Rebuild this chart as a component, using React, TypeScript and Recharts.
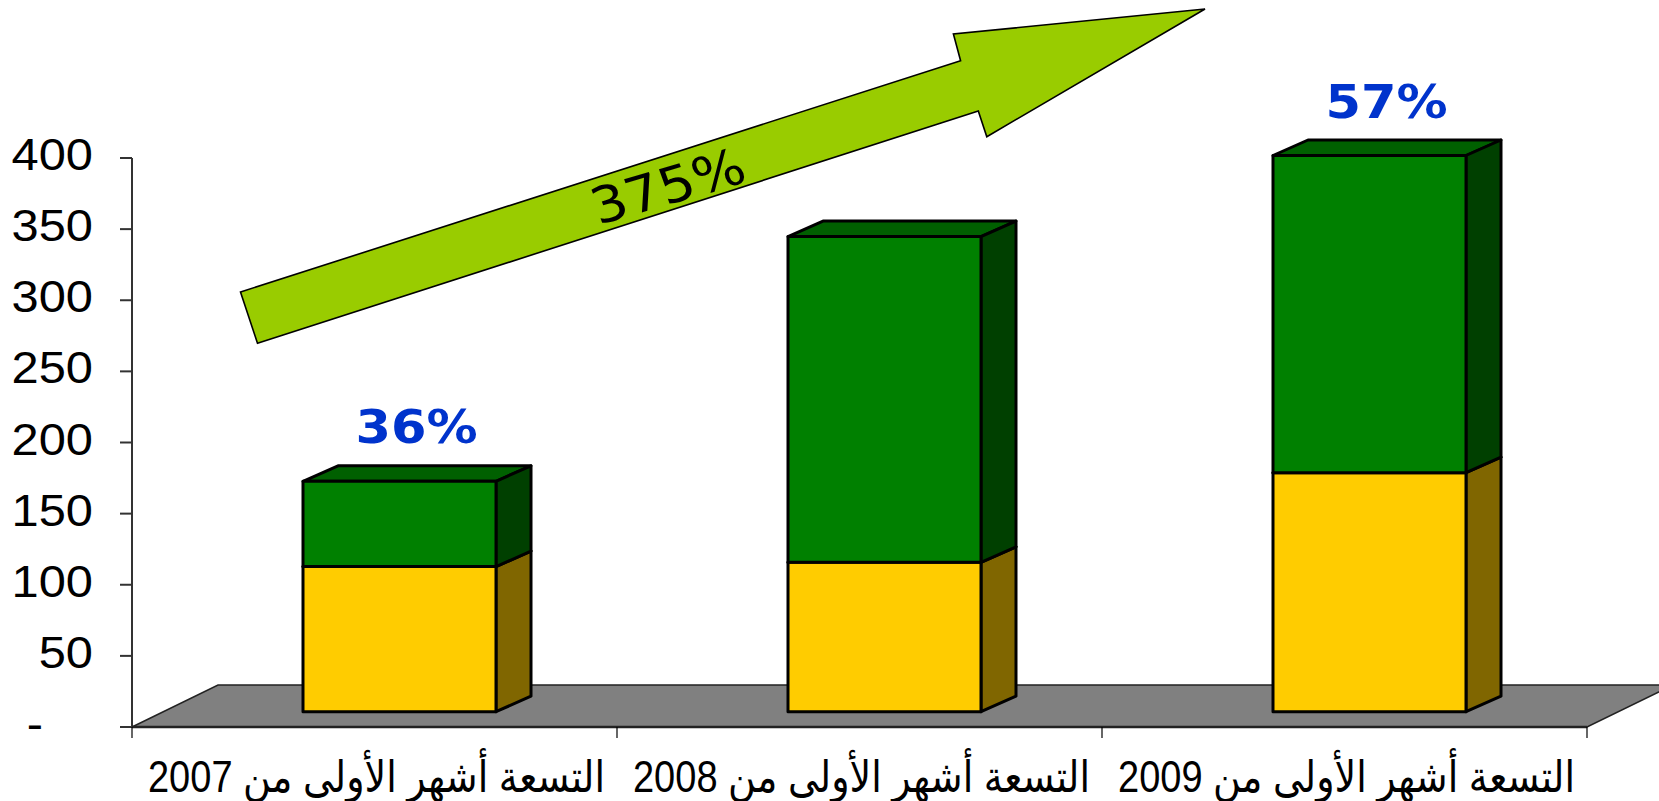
import React from 'react'
import { BarChart, Bar, XAxis, YAxis, ReferenceLine, LabelList } from 'recharts'

const categories = [
  'التسعة أشهر الأولى من 2007',
  'التسعة أشهر الأولى من 2008',
  'التسعة أشهر الأولى من 2009',
]
const yellowValues = [102, 105, 168]
const greenValues = [60, 229, 223]
const shareLabels = ['36%', '', '57%']
const yTicks = [0, 50, 100, 150, 200, 250, 300, 350, 400]
const growthLabel = '375%'

const data = categories.map((name, i) => ({
  name,
  yellow: yellowValues[i],
  green: greenValues[i],
  pct: shareLabels[i],
}))

const W = 1659
const H = 801
// the picture is a slide image stretched sideways, so text is widened a bit
const STRETCH = 1.11
// front face of the boxes sits a little behind the axis plane
const SHIFT_X = 25
const SHIFT_Y = -15.3
const DEPTH_X = 35
const DEPTH_Y = -15.5
const FLOOR_X = 86
const FLOOR_Y = -42

const SANS = '"Liberation Sans", Arial, "DejaVu Sans", sans-serif'

function makeBox(front: string, side: string, top: string) {
  return function Box(props: any) {
    const { x, y, width, height } = props
    if (!height || height <= 0) return <g />
    const fx = x + SHIFT_X
    const fy = y + SHIFT_Y
    const r = fx + width
    const b = fy + height
    return (
      <g stroke="#000" strokeWidth={3} strokeLinejoin="round">
        <polygon
          points={`${fx},${fy} ${fx + DEPTH_X},${fy + DEPTH_Y} ${r + DEPTH_X},${fy + DEPTH_Y} ${r},${fy}`}
          fill={top}
        />
        <polygon
          points={`${r},${fy} ${r + DEPTH_X},${fy + DEPTH_Y} ${r + DEPTH_X},${b + DEPTH_Y} ${r},${b}`}
          fill={side}
        />
        <rect x={fx} y={fy} width={width} height={height} fill={front} />
      </g>
    )
  }
}

const YellowBox = makeBox('#FFCC00', '#806600', '#CCA300')
const GreenBox = makeBox('#008000', '#004000', '#006000')

function Floor(props: any) {
  const { x1, y1, x2, y2 } = props
  return (
    <g>
      <polygon
        points={`${x1},${y1} ${x1 + FLOOR_X},${y1 + FLOOR_Y} ${x2 + FLOOR_X},${y2 + FLOOR_Y} ${x2},${y2}`}
        fill="#808080"
        stroke="#222"
        strokeWidth={1.5}
      />
    </g>
  )
}

function ValueTick(props: any) {
  const { x, y, payload } = props
  const zero = payload.value === 0
  const label = zero ? '-' : String(payload.value)
  const tx = x + (zero ? -77 : -27)
  return (
    <text
      transform={`translate(${tx},${y + 12}) scale(${STRETCH},1)`}
      textAnchor="end"
      fontSize={44}
      fontFamily={SANS}
      fill="#000"
    >
      {label}
    </text>
  )
}

function CategoryTick(props: any) {
  const { x, y, payload, index } = props
  const half = payload && payload.offset ? payload.offset : 1455 / 6
  const last = index === categories.length - 1
  return (
    <g>
      <line x1={x - half} y1={y} x2={x - half} y2={y + 11} stroke="#000" strokeWidth={1.2} />
      {last && <line x1={x + half} y1={y} x2={x + half} y2={y + 11} stroke="#000" strokeWidth={1.2} />}
      <text
        x={x + 2}
        y={y + 65}
        textAnchor="middle"
        direction="rtl"
        fontSize={44}
        fontFamily={SANS}
        textLength={457}
        lengthAdjust="spacingAndGlyphs"
        fill="#000"
      >
        {payload.value}
      </text>
    </g>
  )
}

function ShareLabel(props: any) {
  const { x, y, width, value } = props
  if (!value) return null
  const cx = x + width / 2 + SHIFT_X + 17
  const by = y + SHIFT_Y - 38
  return (
    <text
      transform={`translate(${cx},${by}) scale(${STRETCH},1)`}
      textAnchor="middle"
      fontSize={46}
      fontWeight="bold"
      fontFamily='"DejaVu Sans", Verdana, sans-serif'
      fill="#0033CC"
    >
      {value}
    </text>
  )
}

function GrowthArrow() {
  const pts = [
    [240.5, 292],
    [960.6, 60.7],
    [953.4, 34],
    [1205, 9],
    [986.8, 136.7],
    [978.3, 111],
    [257.5, 343.3],
  ]
  return (
    <svg
      width={W}
      height={H}
      style={{ position: 'absolute', left: 0, top: 0, pointerEvents: 'none' }}
    >
      <polygon
        points={pts.map((p) => p.join(',')).join(' ')}
        fill="#99CC00"
        stroke="#000"
        strokeWidth={1.6}
        strokeLinejoin="miter"
      />
      <text
        transform={`translate(674,203) scale(${STRETCH},1) rotate(-18)`}
        textAnchor="middle"
        fontSize={50}
        fontFamily='"DejaVu Sans", sans-serif'
        fill="#000"
      >
        {growthLabel}
      </text>
    </svg>
  )
}

export default function App() {
  return (
    <div style={{ position: 'absolute', left: 0, top: 0, width: W, height: H, background: '#fff' }}>
      <BarChart
        width={W}
        height={H}
        data={data}
        margin={{ top: 158, right: 72, bottom: 0, left: 0 }}
        barSize={193}
      >
        <ReferenceLine y={0} shape={Floor} zIndex={-10} ifOverflow="visible" />
        <YAxis
          type="number"
          domain={[0, 400]}
          ticks={yTicks}
          interval={0}
          width={132}
          tickSize={12}
          tickMargin={0}
          axisLine={{ stroke: '#333', strokeWidth: 2 }}
          tickLine={{ stroke: '#333', strokeWidth: 2 }}
          tick={ValueTick}
        />
        <XAxis
          dataKey="name"
          height={74}
          interval={0}
          tickSize={0}
          tickMargin={0}
          tickLine={false}
          axisLine={{ stroke: '#222', strokeWidth: 2.5 }}
          tick={CategoryTick}
        />
        <Bar dataKey="yellow" stackId="a" shape={YellowBox} isAnimationActive={false} />
        <Bar dataKey="green" stackId="a" shape={GreenBox} isAnimationActive={false}>
          <LabelList dataKey="pct" content={ShareLabel} />
        </Bar>
      </BarChart>
      <GrowthArrow />
    </div>
  )
}
